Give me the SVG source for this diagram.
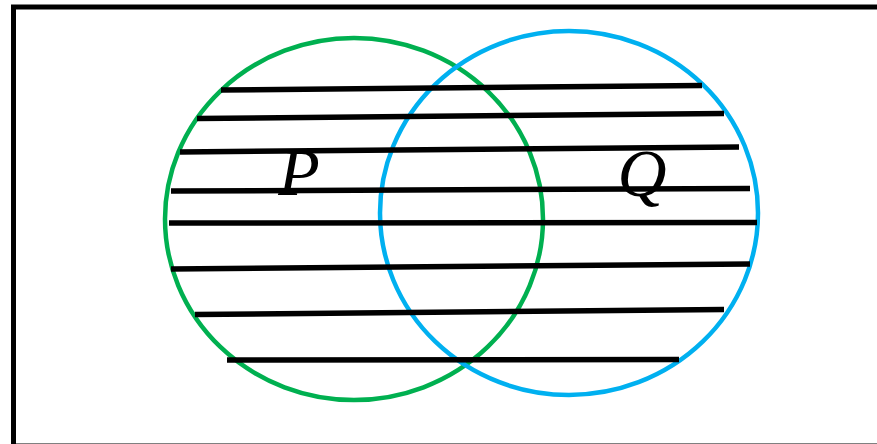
<svg xmlns="http://www.w3.org/2000/svg" width="877" height="444" viewBox="0 0 877 444">
<style>
.frame{fill:#fff;stroke:#000;stroke-width:5}
.set{fill:none;stroke-width:4.5}
.hatch line{stroke:#000;stroke-width:5.5}
.lbl{font-family:"Liberation Serif","DejaVu Serif",serif;font-style:italic;font-size:68px;fill:#000;text-anchor:middle}
</style>
<rect class="frame" x="13.5" y="7" width="870" height="439"/>
<g id="P">
<ellipse class="set" cx="354" cy="219" rx="189" ry="181" stroke="#00B050"/>
</g>
<g id="Q">
<ellipse class="set" cx="569" cy="213" rx="189" ry="182" stroke="#00B0F0"/>
</g>
<g id="hatching" class="hatch">
<line x1="221" y1="90" x2="702" y2="85.5"/>
<line x1="197" y1="118.5" x2="724" y2="113.5"/>
<line x1="180" y1="152" x2="739" y2="147"/>
<line x1="171" y1="191" x2="750" y2="188.5"/>
<line x1="169" y1="223" x2="757" y2="222.5"/>
<line x1="171" y1="269" x2="750" y2="264"/>
<line x1="195" y1="314.5" x2="724" y2="309.5"/>
<line x1="227" y1="360" x2="679" y2="359.5"/>
</g>
<g id="labels">
<text class="lbl" x="299" y="195">P</text>
<text class="lbl" x="642" y="196">Q</text>
</g>
</svg>
